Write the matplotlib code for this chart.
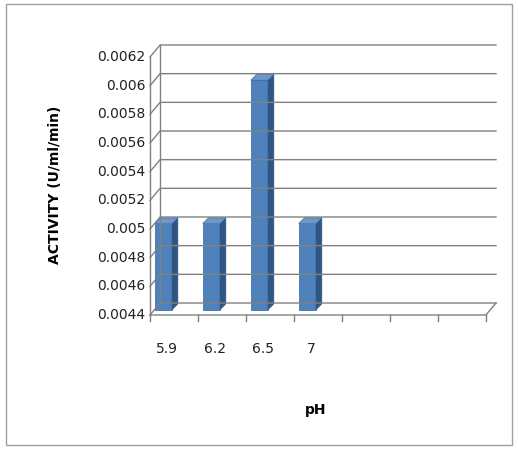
import matplotlib.pyplot as plt
from matplotlib.patches import Polygon, Rectangle

ph_labels = ["5.9", "6.2", "6.5", "7"]
activity = [0.005, 0.005, 0.006, 0.005]
yticks = [0.0044, 0.0046, 0.0048, 0.005, 0.0052, 0.0054, 0.0056, 0.0058, 0.006, 0.0062]
ytick_labels = ["0.0044", "0.0046", "0.0048", "0.005", "0.0052", "0.0054",
                "0.0056", "0.0058", "0.006", "0.0062"]
n_slots = 7

ymin, ymax = 0.0044, 0.0062
dx, dy = 0.21, 0.0000837       # wall depth
bdx, bdy = 0.12, 0.00004       # bar depth
bw = 0.36
lift = dy * 0.45               # bars sit mid-depth

fig = plt.figure(figsize=(5.18, 4.49), dpi=100)
fig.patches.append(Rectangle((0.012, 0.01), 0.976, 0.98, transform=fig.transFigure,
                             fill=False, edgecolor="#a0a0a0", lw=1))
ax = fig.add_axes([150/518, (449-315)/449, 346/518, 270/449])
ax.set_xlim(0, n_slots + dx)
ax.set_ylim(ymin, ymax + dy)
ax.axis("off")

line = dict(color="#808080", lw=1, clip_on=False)
for v in yticks:
    ax.plot([0, dx, n_slots + dx], [v, v + dy, v + dy], **line)
ax.plot([0, 0], [ymin, ymax], **line)
ax.plot([dx, dx], [ymin + dy, ymax + dy], **line)
ax.plot([0, n_slots, n_slots + dx], [ymin, ymin, ymin + dy], **line)
for i in range(n_slots + 1):
    ax.plot([i, i], [ymin, ymin - 0.00004], **line)
for v, lab in zip(yticks, ytick_labels):
    ax.text(-0.1, v, lab, ha="right", va="center", fontsize=10, color="#222222")

for i, (lab, v) in enumerate(zip(ph_labels, activity)):
    x0 = i + 0.1
    x1 = x0 + bw
    b, t = ymin + lift, v + lift
    ax.add_patch(Polygon([(x0, b), (x1, b), (x1, t), (x0, t)],
                         facecolor="#4F81BD", edgecolor="#3A6496", lw=0.5))
    ax.add_patch(Polygon([(x1, b), (x1 + bdx, b + bdy), (x1 + bdx, t + bdy), (x1, t)],
                         facecolor="#2F5583", edgecolor="#2F5583", lw=0.5))
    ax.add_patch(Polygon([(x0, t), (x1, t), (x1 + bdx, t + bdy), (x0 + bdx, t + bdy)],
                         facecolor="#6E97CC", edgecolor="#3A6496", lw=0.5))
    ax.text(i + 0.35, ymin - 0.00024, lab, ha="center", va="center", fontsize=10,
            color="#222222")

ax.text(3.45, ymin - 0.00066, "pH", ha="center", va="center", fontsize=10,
        fontweight="bold")
fig.text(55/518, (449-185)/449, "ACTIVITY (U/ml/min)", rotation=90, ha="center",
         va="center", fontsize=10, fontweight="bold")

fig.savefig("out.png", dpi=100)
